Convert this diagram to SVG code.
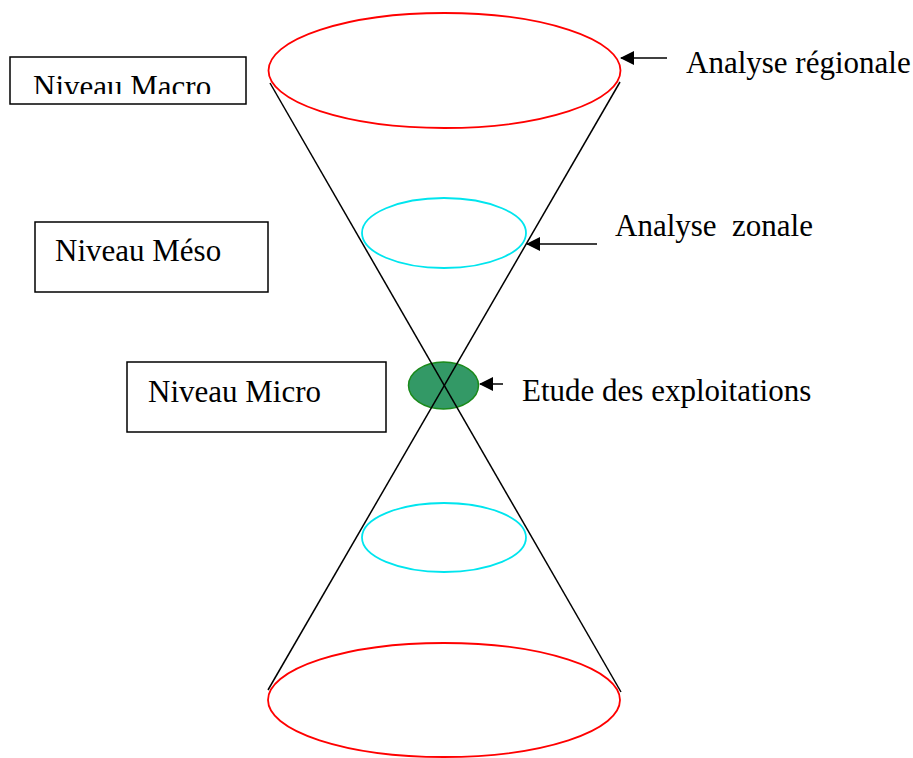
<svg xmlns="http://www.w3.org/2000/svg" width="913" height="758" viewBox="0 0 913 758">
<style>
.t{font-family:"Liberation Serif","Times New Roman",serif;font-size:31px;fill:#000;white-space:pre}
.box{fill:#fff;stroke:#000;stroke-width:1.5}
.red{fill:none;stroke:#ff0000;stroke-width:1.8}
.cyan{fill:none;stroke:#00e5ee;stroke-width:1.8}
.ln{stroke:#000;stroke-width:1.5;fill:none}
</style>
<defs>
<marker id="ah" markerWidth="14" markerHeight="14" refX="13" refY="7" orient="auto" markerUnits="userSpaceOnUse">
<path d="M0,0 L14,7 L0,14 Z" fill="#000"/>
</marker>
<clipPath id="cm"><rect x="10" y="57" width="236" height="37"/></clipPath>
</defs>
<rect width="913" height="758" fill="#fff"/>
<g id="top-ellipse"><ellipse class="red" cx="444.5" cy="70.5" rx="176" ry="57.5"/></g>
<g id="bottom-ellipse"><ellipse class="red" cx="444" cy="700" rx="176" ry="57"/></g>
<g id="top-zone"><ellipse class="cyan" cx="444" cy="233" rx="82" ry="35"/></g>
<g id="bottom-zone"><ellipse class="cyan" cx="444" cy="537.5" rx="82" ry="34.5"/></g>
<g id="micro-ellipse"><ellipse cx="443.5" cy="385.5" rx="35" ry="23.5" fill="#339966" stroke="#1a8a1a" stroke-width="1.5"/></g>
<g id="cone-lines">
<line class="ln" x1="270" y1="83" x2="621" y2="692"/>
<line class="ln" x1="620" y1="82" x2="268" y2="690"/>
</g>
<g id="connectors">
<line class="ln" x1="667" y1="58" x2="621" y2="58" marker-end="url(#ah)"/>
<line class="ln" x1="597" y1="244" x2="527" y2="244" marker-end="url(#ah)"/>
<line class="ln" x1="503" y1="384" x2="480" y2="384" marker-end="url(#ah)"/>
</g>
<g id="macro">
<rect class="box" x="10" y="57" width="236" height="47"/>
<text class="t" x="33" y="97" clip-path="url(#cm)">Niveau Macro</text>
</g>
<g id="meso">
<rect class="box" x="35" y="222" width="233" height="70"/>
<text class="t" x="55" y="261">Niveau Méso</text>
</g>
<g id="micro">
<rect class="box" x="127" y="362" width="259" height="70"/>
<text class="t" x="148" y="402">Niveau Micro</text>
</g>
<g id="labels">
<text class="t" x="686" y="73">Analyse régionale</text>
<text class="t" x="615" y="236">Analyse  zonale</text>
<text class="t" x="522" y="401">Etude des exploitations</text>
</g>
</svg>
